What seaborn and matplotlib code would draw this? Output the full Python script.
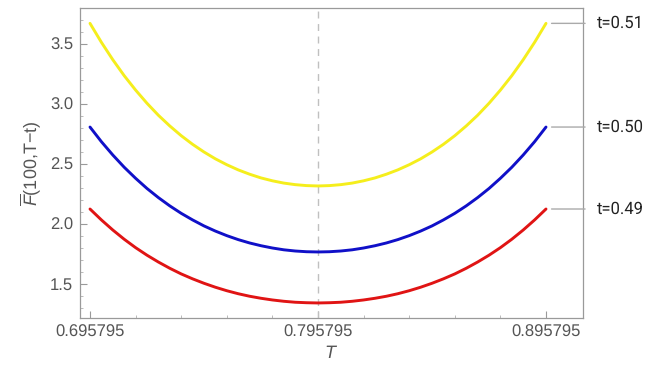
import matplotlib
matplotlib.use("Agg")
import matplotlib.pyplot as plt
import seaborn as sns
import numpy as np
import pandas as pd
from matplotlib.ticker import FixedLocator, MultipleLocator

# ---- data ----
center_T = 0.795795
# offsets from the centre, one half of the (symmetric) curves
half_offsets = [0.0, 0.005, 0.01, 0.015, 0.02, 0.025, 0.03, 0.035, 0.04, 0.045,
                0.05, 0.055, 0.06, 0.065, 0.07, 0.075, 0.08, 0.085, 0.09, 0.095, 0.1]
yellow_half = [2.317, 2.320, 2.328, 2.341, 2.360, 2.384, 2.415, 2.451, 2.494, 2.543,
               2.600, 2.664, 2.736, 2.817, 2.906, 3.006, 3.116, 3.236, 3.369, 3.514, 3.672]
blue_half = [1.767, 1.769, 1.775, 1.785, 1.800, 1.819, 1.842, 1.870, 1.903, 1.941,
             1.984, 2.034, 2.089, 2.151, 2.220, 2.296, 2.381, 2.473, 2.575, 2.686, 2.808]
red_half = [1.342, 1.344, 1.348, 1.356, 1.367, 1.381, 1.398, 1.419, 1.444, 1.473,
            1.506, 1.543, 1.584, 1.631, 1.683, 1.740, 1.803, 1.873, 1.950, 2.034, 2.125]
series_labels = ["t=0.51", "t=0.50", "t=0.49"]
series_colors = ["#f5ee1c", "#1010c8", "#e01414"]
x_ticks = [0.695795, 0.795795, 0.895795]
x_tick_labels = ["0.695795", "0.795795", "0.895795"]
y_ticks = [1.5, 2.0, 2.5, 3.0, 3.5]

# full symmetric curves
T_vals = [center_T - o for o in half_offsets[::-1]] + [center_T + o for o in half_offsets[1:]]
def full(h):
    return h[::-1] + h[1:]

rows = []
for lab, h in zip(series_labels, [yellow_half, blue_half, red_half]):
    for t, v in zip(T_vals, full(h)):
        rows.append({"T": t, "F": v, "series": lab})
df = pd.DataFrame(rows)

# ---- plot ----
sns.set_theme(style="white")
plt.rcParams["font.family"] = ["Liberation Sans", "DejaVu Sans"]
plt.rcParams["mathtext.fontset"] = "custom"
plt.rcParams["mathtext.it"] = "Liberation Sans:italic"
plt.rcParams["mathtext.rm"] = "Liberation Sans"
plt.rcParams["text.hinting"] = "no_hinting"

fig = plt.figure(figsize=(6.6, 3.71), dpi=100)
ax = fig.add_axes([80/660, 1-318/371, (583-80)/660, (318-8)/371])

ax.axvline(center_T, color="#c0c0c0", lw=1.0, ls=(0, (5, 4)), zorder=1)

sns.lineplot(data=df, x="T", y="F", hue="series", hue_order=series_labels,
             palette=series_colors, lw=2.1, ax=ax, legend=False, sort=True,
             estimator=None)

ax.set_xlim(0.69141, 0.91202)
ax.set_ylim(1.2167, 3.8)

ax.xaxis.set_major_locator(FixedLocator(x_ticks))
ax.set_xticklabels(x_tick_labels)
ax.xaxis.set_minor_locator(FixedLocator([x_ticks[0] + 0.02*i for i in range(11)]))
ax.yaxis.set_major_locator(FixedLocator(y_ticks))
ax.yaxis.set_minor_locator(MultipleLocator(0.1))

for s in ax.spines.values():
    s.set_color("#9a9a9a")
    s.set_linewidth(0.9)

ax.tick_params(which="major", direction="in", length=5, width=0.8, color="#9a9a9a",
               labelsize=12, labelcolor="#555555", pad=5)
ax.tick_params(which="minor", direction="in", length=2.5, width=0.6, color="#b0b0b0")
ax.tick_params(axis="both", which="both", bottom=True, left=True, top=False, right=False)

ax.set_xlabel("$T$", fontsize=13, color="#555555", labelpad=3)
ax.set_ylabel(r"$\overline{F}$(100,T−t)", fontsize=13, color="#555555", labelpad=5)

# right-side labels with leader lines
for lab, h in zip(series_labels, [yellow_half, blue_half, red_half]):
    yv = h[-1]
    ax.annotate(lab, xy=(x_ticks[-1], yv), xycoords="data",
                xytext=(37, 0), textcoords="offset points",
                va="center", ha="left", fontsize=12, color="#222222",
                family=["Roboto", "DejaVu Sans"],
                annotation_clip=False,
                arrowprops=dict(arrowstyle="-", color="#aaaaaa", lw=1.0,
                                shrinkA=6.5, shrinkB=4))

fig.savefig("out.png", dpi=100)
